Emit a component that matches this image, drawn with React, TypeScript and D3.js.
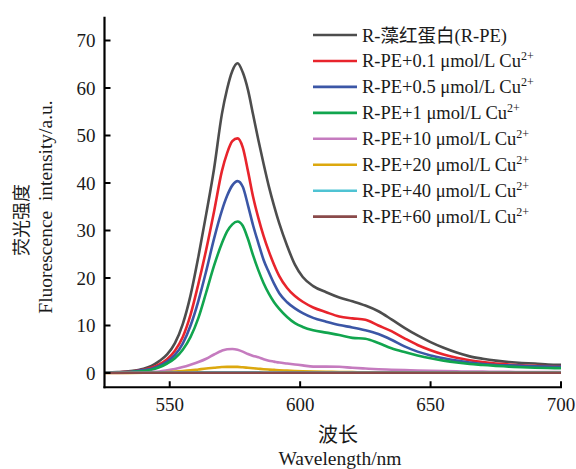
import React from "react";
import * as d3 from "d3";

const wavelengths = [525, 530, 535, 540, 543, 546, 549, 552, 555, 558, 561, 564, 567, 570, 572, 574, 576, 578, 580, 582, 584, 586, 588, 590, 592, 595, 598, 601, 605, 610, 615, 620, 625, 630, 635, 640, 645, 650, 655, 660, 665, 670, 675, 680, 685, 690, 695, 700];

const rpe = [0.1, 0.2, 0.4, 0.9, 1.5, 2.5, 3.9, 6.3, 10.3, 16.4, 24.5, 33.5, 43, 54.5, 59.8, 63.6, 65.2, 63.3, 59.6, 54.3, 49, 44, 39.3, 35.2, 31.5, 26.8, 22.8, 20.2, 18.3, 17, 15.9, 15.1, 14.2, 13.0, 11.3, 9.5, 7.9, 6.5, 5.3, 4.3, 3.5, 3.0, 2.6, 2.3, 2.1, 2.0, 1.8, 1.7];
const cu01 = [0.1, 0.15, 0.3, 0.7, 1.1, 1.8, 2.9, 4.7, 7.6, 12.3, 18.8, 26, 34, 42.5, 46.3, 48.8, 49.4, 47.5, 42.5, 37, 32.6, 28.8, 25.6, 22.8, 20.4, 17.9, 16.2, 15, 13.8, 12.8, 11.9, 11.5, 11.2, 10, 8.8, 7.3, 5.9, 4.8, 3.9, 3.2, 2.7, 2.3, 2.0, 1.8, 1.6, 1.5, 1.4, 1.3];
const cu05 = [0.1, 0.15, 0.25, 0.6, 0.9, 1.5, 2.4, 3.8, 6.2, 10, 15.2, 21.5, 28.3, 34.2, 37.3, 39.5, 40.4, 39.2, 35.3, 31, 27.3, 23.8, 21.2, 18.8, 16.8, 14.9, 13.6, 12.6, 11.6, 10.8, 10.1, 9.6, 9.0, 8.2, 7, 5.6, 4.5, 3.7, 3.1, 2.6, 2.2, 1.9, 1.7, 1.6, 1.5, 1.4, 1.35, 1.3];
const cu1 = [0.05, 0.1, 0.2, 0.4, 0.7, 1.2, 2.0, 3.1, 4.9, 7.6, 11.6, 17, 22.6, 27.3, 29.8, 31.3, 31.9, 31, 28.2, 24.7, 21.6, 18.9, 16.7, 14.9, 13.5, 11.8, 10.5, 9.7, 9, 8.5, 8, 7.4, 7.2, 6.3, 5.2, 4.4, 3.7, 3.1, 2.6, 2.2, 1.9, 1.7, 1.5, 1.35, 1.2, 1.1, 1.05, 1.0];
const cu10 = [0, 0.02, 0.05, 0.1, 0.2, 0.3, 0.55, 0.85, 1.25, 1.75, 2.3, 3.0, 3.9, 4.7, 5.0, 5.05, 4.9, 4.5, 4.0, 3.6, 3.3, 2.9, 2.6, 2.4, 2.2, 2.0, 1.8, 1.6, 1.35, 1.35, 1.3, 1.1, 0.95, 0.8, 0.7, 0.6, 0.5, 0.45, 0.4, 0.35, 0.3, 0.3, 0.25, 0.25, 0.2, 0.2, 0.2, 0.2];
const cu20 = [0, 0, 0.02, 0.05, 0.08, 0.12, 0.2, 0.28, 0.4, 0.55, 0.75, 0.95, 1.1, 1.25, 1.3, 1.3, 1.28, 1.2, 1.1, 1.0, 0.9, 0.8, 0.72, 0.65, 0.58, 0.5, 0.42, 0.36, 0.3, 0.25, 0.2, 0.18, 0.15, 0.15, 0.14, 0.13, 0.12, 0.12, 0.11, 0.11, 0.1, 0.1, 0.1, 0.1, 0.1, 0.1, 0.1, 0.1];
const cu40 = [0.1, 0.1, 0.1, 0.1, 0.1, 0.1, 0.1, 0.1, 0.1, 0.12, 0.13, 0.14, 0.15, 0.16, 0.17, 0.17, 0.17, 0.16, 0.15, 0.14, 0.13, 0.12, 0.12, 0.11, 0.11, 0.1, 0.1, 0.1, 0.1, 0.1, 0.1, 0.1, 0.1, 0.1, 0.1, 0.1, 0.1, 0.1, 0.1, 0.1, 0.1, 0.1, 0.1, 0.1, 0.1, 0.1, 0.1, 0.1];
const cu60 = [0.05, 0.05, 0.05, 0.05, 0.05, 0.05, 0.05, 0.05, 0.05, 0.05, 0.05, 0.05, 0.05, 0.05, 0.05, 0.05, 0.05, 0.05, 0.05, 0.05, 0.05, 0.05, 0.05, 0.05, 0.05, 0.05, 0.05, 0.05, 0.05, 0.05, 0.05, 0.05, 0.05, 0.05, 0.05, 0.05, 0.05, 0.05, 0.05, 0.05, 0.05, 0.05, 0.05, 0.05, 0.05, 0.05, 0.05, 0.05];

const seriesValues = [rpe, cu01, cu05, cu1, cu10, cu20, cu40, cu60];
const seriesColors = ["#4d4d4d", "#e8242c", "#3b56a6", "#11a54e", "#c57bbf", "#dca80e", "#4fc3d3", "#8a4a4a"];
const legendMain = ["R-藻红蛋白(R-PE)", "R-PE+0.1 μmol/L Cu", "R-PE+0.5 μmol/L Cu", "R-PE+1 μmol/L Cu", "R-PE+10 μmol/L Cu", "R-PE+20 μmol/L Cu", "R-PE+40 μmol/L Cu", "R-PE+60 μmol/L Cu"];
const legendSup = ["", "2+", "2+", "2+", "2+", "2+", "2+", "2+"];

const xTicks = [550, 600, 650, 700];
const yTicks = [0, 10, 20, 30, 40, 50, 60, 70];

const FONT = "'Liberation Serif', 'Times New Roman', 'Noto Sans CJK SC', serif";

export default function App() {
  const x = d3.scaleLinear().domain([525, 700]).range([104.5, 561]);
  const y = d3.scaleLinear().domain([-3, 75]).range([387.25, 16.75]);
  const line = d3
    .line<number>()
    .x((_, i) => x(wavelengths[i]))
    .y((v) => y(v))
    .curve(d3.curveMonotoneX);

  const x0 = x(525);
  const x1 = x(700) + 1;
  const yb = y(-3);
  const yt = y(75);

  return (
    <svg
      width={576}
      height={469}
      style={{ position: "absolute", left: 0, top: 0, background: "#fff" }}
      fontFamily={FONT}
    >
      <rect x={0} y={0} width={576} height={469} fill="#fff" />
      {seriesValues.map((vals, i) => (
        <path key={i} d={line(vals) || ""} fill="none" stroke={seriesColors[i]} strokeWidth={2.6} strokeLinejoin="round" />
      ))}
      {/* axes */}
      <line x1={x0} x2={x0} y1={yt} y2={yb + 1} stroke="#000" strokeWidth={2.2} />
      <line x1={x0 - 1} x2={x1} y1={yb} y2={yb} stroke="#000" strokeWidth={2.2} />
      {xTicks.map((t) => (
        <g key={t}>
          <line x1={x(t)} x2={x(t)} y1={yb} y2={yb - 6} stroke="#000" strokeWidth={2} />
          <text x={x(t)} y={411} textAnchor="middle" fontSize={19} fill="#1a1a1a">
            {t}
          </text>
        </g>
      ))}
      {yTicks.map((t) => (
        <g key={t}>
          <line x1={x0} x2={x0 + 6} y1={y(t)} y2={y(t)} stroke="#000" strokeWidth={2} />
          <text x={95.5} y={y(t) + 6.5} textAnchor="end" fontSize={19} fill="#1a1a1a">
            {t}
          </text>
        </g>
      ))}
      {/* axis titles */}
      <text x={338} y={442} textAnchor="middle" fontSize={20} fill="#1a1a1a">
        波长
      </text>
      <text x={340} y={465} textAnchor="middle" fontSize={19.5} fill="#1a1a1a">
        Wavelength/nm
      </text>
      <text transform="translate(28,220) rotate(-90)" textAnchor="middle" fontSize={18} fill="#1a1a1a">
        荧光强度
      </text>
      <text transform="translate(52,207) rotate(-90)" textAnchor="middle" fontSize={19.5} fill="#1a1a1a" style={{ whiteSpace: "pre" }}>
        {"Fluorescence  intensity/a.u."}
      </text>
      {/* legend */}
      {legendMain.map((label, i) => {
        const cy = 35 + i * 25.95;
        return (
          <g key={i}>
            <line x1={313} x2={357} y1={cy} y2={cy} stroke={seriesColors[i]} strokeWidth={2.6} />
            <text x={362} y={cy + 6.5} fontSize={18.5} fill="#1a1a1a">
              {label}
              {legendSup[i] ? (
                <tspan dy={-7.5} fontSize={12}>
                  {legendSup[i]}
                </tspan>
              ) : null}
            </text>
          </g>
        );
      })}
    </svg>
  );
}
